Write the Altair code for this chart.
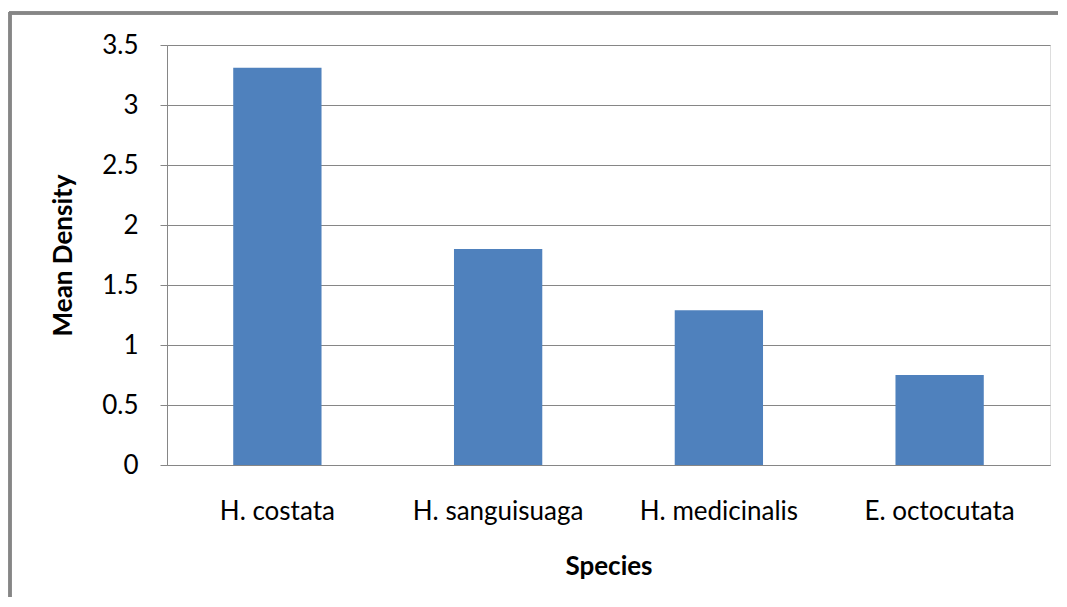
import altair as alt
import pandas as pd

species = ["H. costata", "H. sanguisuaga", "H. medicinalis", "E. octocutata"]
mean_density = [3.31, 1.80, 1.29, 0.75]

df = pd.DataFrame({"Species": species, "Mean Density": mean_density})

GRAY = "#868686"
FONT = "Lato"

bars = alt.Chart(df).mark_bar(color="#4F81BD").encode(
    x=alt.X("Species:N", sort=species,
            scale=alt.Scale(paddingInner=0.6, paddingOuter=0.3),
            axis=alt.Axis(title="Species", labelAngle=0, ticks=False,
                          labelPadding=33, titlePadding=29,
                          labelFontSize=26, titleFontSize=26,
                          labelFont=FONT, titleFont=FONT,
                          labelFontWeight="normal",
                          labelColor="#000", titleColor="#000",
                          domainColor=GRAY, grid=False)),
    y=alt.Y("Mean Density:Q",
            scale=alt.Scale(domain=[0, 3.5], nice=False),
            axis=alt.Axis(title="Mean Density", values=[0, 0.5, 1, 1.5, 2, 2.5, 3, 3.5],
                          format=".1~f", tickSize=7, tickColor=GRAY,
                          domainColor=GRAY, gridColor=GRAY,
                          labelPadding=22, titlePadding=25,
                          labelFontSize=26, titleFontSize=26,
                          labelFont=FONT, titleFont=FONT,
                          labelColor="#000", titleColor="#000")),
)

top_border = alt.Chart(df).mark_rule(color=GRAY, strokeWidth=3).encode(
    x=alt.value(-158), x2=alt.value(900), y=alt.value(-32)
)
left_border = alt.Chart(df).mark_rule(color=GRAY, strokeWidth=3).encode(
    x=alt.value(-157), y=alt.value(-33), y2=alt.value(560)
)

chart = alt.layer(bars, top_border, left_border).properties(
    width=883, height=420,
    autosize=alt.AutoSizeParams(type="none"),
    padding={"left": 159, "top": 37, "right": 8, "bottom": 132},
).configure_view(stroke=None).configure(background="white")

chart.save("out.html", embed_options={"renderer": "svg", "actions": False})
